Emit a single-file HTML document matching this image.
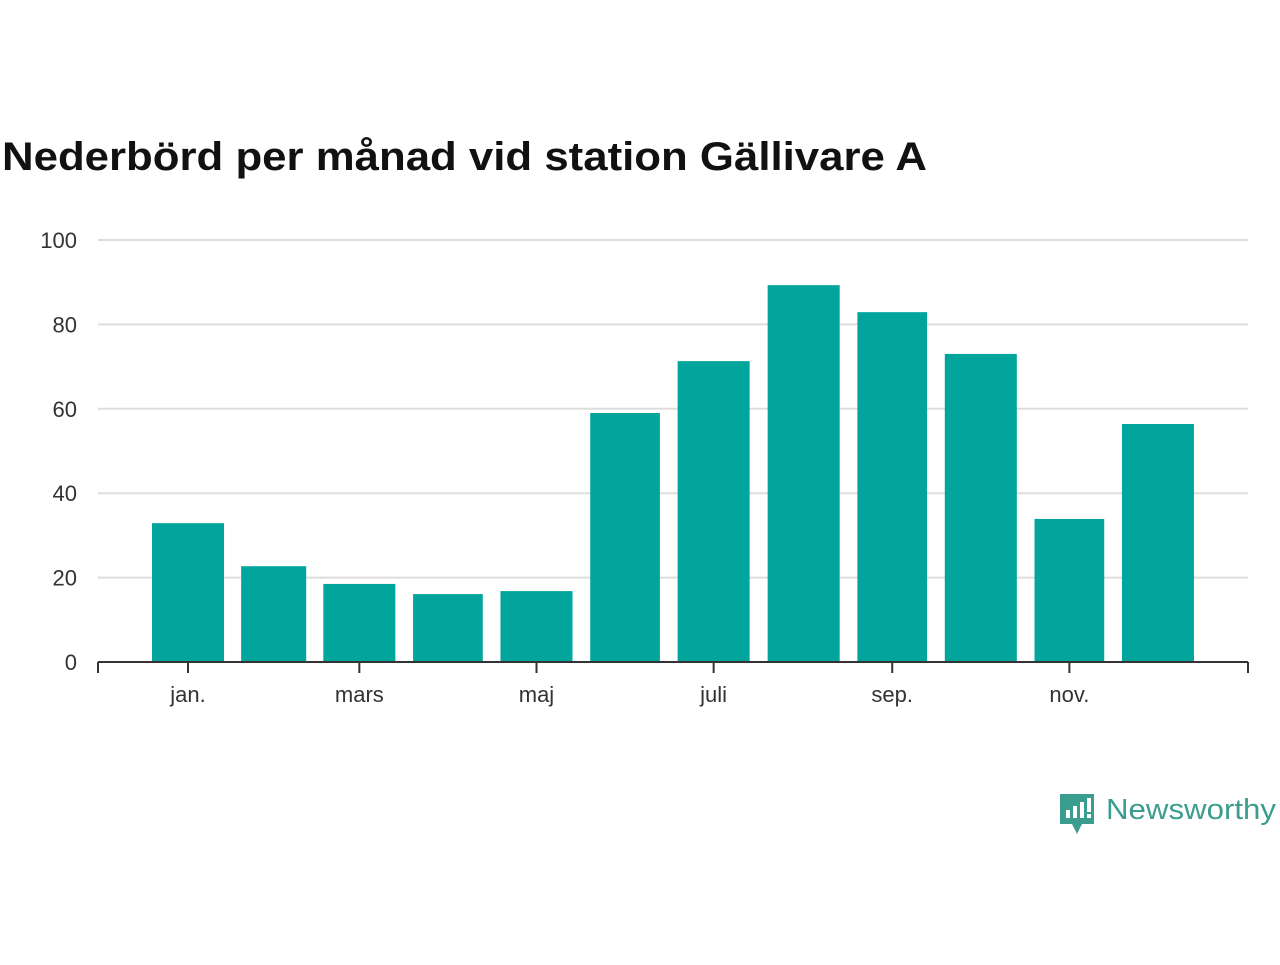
<!DOCTYPE html>
<html><head><meta charset="utf-8"><style>
body{margin:0;background:#fff;width:1280px;height:960px;overflow:hidden;font-family:"Liberation Sans",sans-serif}
</style></head><body>
<svg width="1280" height="960" xmlns="http://www.w3.org/2000/svg">
<text x="2" y="170" font-size="40" font-weight="bold" fill="#111" textLength="925" lengthAdjust="spacingAndGlyphs">Nederbörd per månad vid station Gällivare A</text>
<g id="grid"></g><g id="bars"></g><g id="axes"></g>
<g>
<path d="M1060 794 h34 v30 h-12 l-5 10 l-5 -10 h-12 z" fill="#3a9d8f"/>
<rect x="1066" y="810" width="4" height="8" fill="#fff"/><rect x="1073" y="806" width="4" height="12" fill="#fff"/><rect x="1080" y="802" width="4" height="16" fill="#fff"/><rect x="1087" y="798" width="4" height="14" fill="#fff"/><rect x="1087" y="814" width="4" height="4" fill="#fff"/>
<text x="1106" y="819" font-size="29" fill="#3a9d8f" textLength="170" lengthAdjust="spacingAndGlyphs">Newsworthy</text>
</g>
</svg>
<script>
const months=["jan.","feb.","mars","apr.","maj","juni","juli","aug.","sep.","okt.","nov.","dec."];
const days=[31,28,31,30,31,30,31,31,30,31,30,31];
const values=[32.9,22.7,18.5,16.1,16.8,59,71.3,89.3,82.9,73,33.9,56.4];
const yTicks=[0,20,40,60,80,100];
const labelMonths=[0,2,4,6,8,10];
const NS="http://www.w3.org/2000/svg";
const x=d=>143+2.904*d;
const y=v=>662-4.22*v;
function mk(t,a,p,txt){const e=document.createElementNS(NS,t);for(const k in a)e.setAttribute(k,a[k]);if(txt!==undefined)e.textContent=txt;p.appendChild(e);return e;}
const grid=document.getElementById('grid'),bars=document.getElementById('bars'),axes=document.getElementById('axes');
yTicks.forEach(t=>{
 if(t>0){const l=mk('line',{x1:98,x2:1248,y1:y(t),y2:y(t),stroke:'#dddddd','stroke-width':2},grid);
 
 }
 const tx=mk('text',{x:77,y:y(t)+8,'font-size':22,fill:'#333','text-anchor':'end'},axes,String(t));
 
 
});
let start=0;const starts=[];
days.forEach(d=>{starts.push(start);start+=d;});
values.forEach((v,i)=>{
 const x0=x(starts[i]),x1=x(starts[i]+days[i]),w=(x1-x0)*0.8,c=(x0+x1)/2;
 const r=mk('rect',{x:c-w/2,y:y(v),width:w,height:y(0)-y(v),fill:'#01a59b'},bars);
 
 
});
const ax=mk('line',{x1:98,x2:1248,y1:662,y2:662,stroke:'#333','stroke-width':2},axes);


[98,1248].forEach(p=>{mk('line',{x1:p,x2:p,y1:662,y2:673,stroke:'#333','stroke-width':2},axes);});
labelMonths.forEach(i=>{
 const c=x(starts[i]+days[i]/2);
 mk('line',{x1:c,x2:c,y1:662,y2:673,stroke:'#333','stroke-width':2},axes);
 const t=mk('text',{x:c,y:702,'font-size':22,fill:'#333','text-anchor':'middle'},axes,months[i]);
 
 
});
</script>
</body></html>
